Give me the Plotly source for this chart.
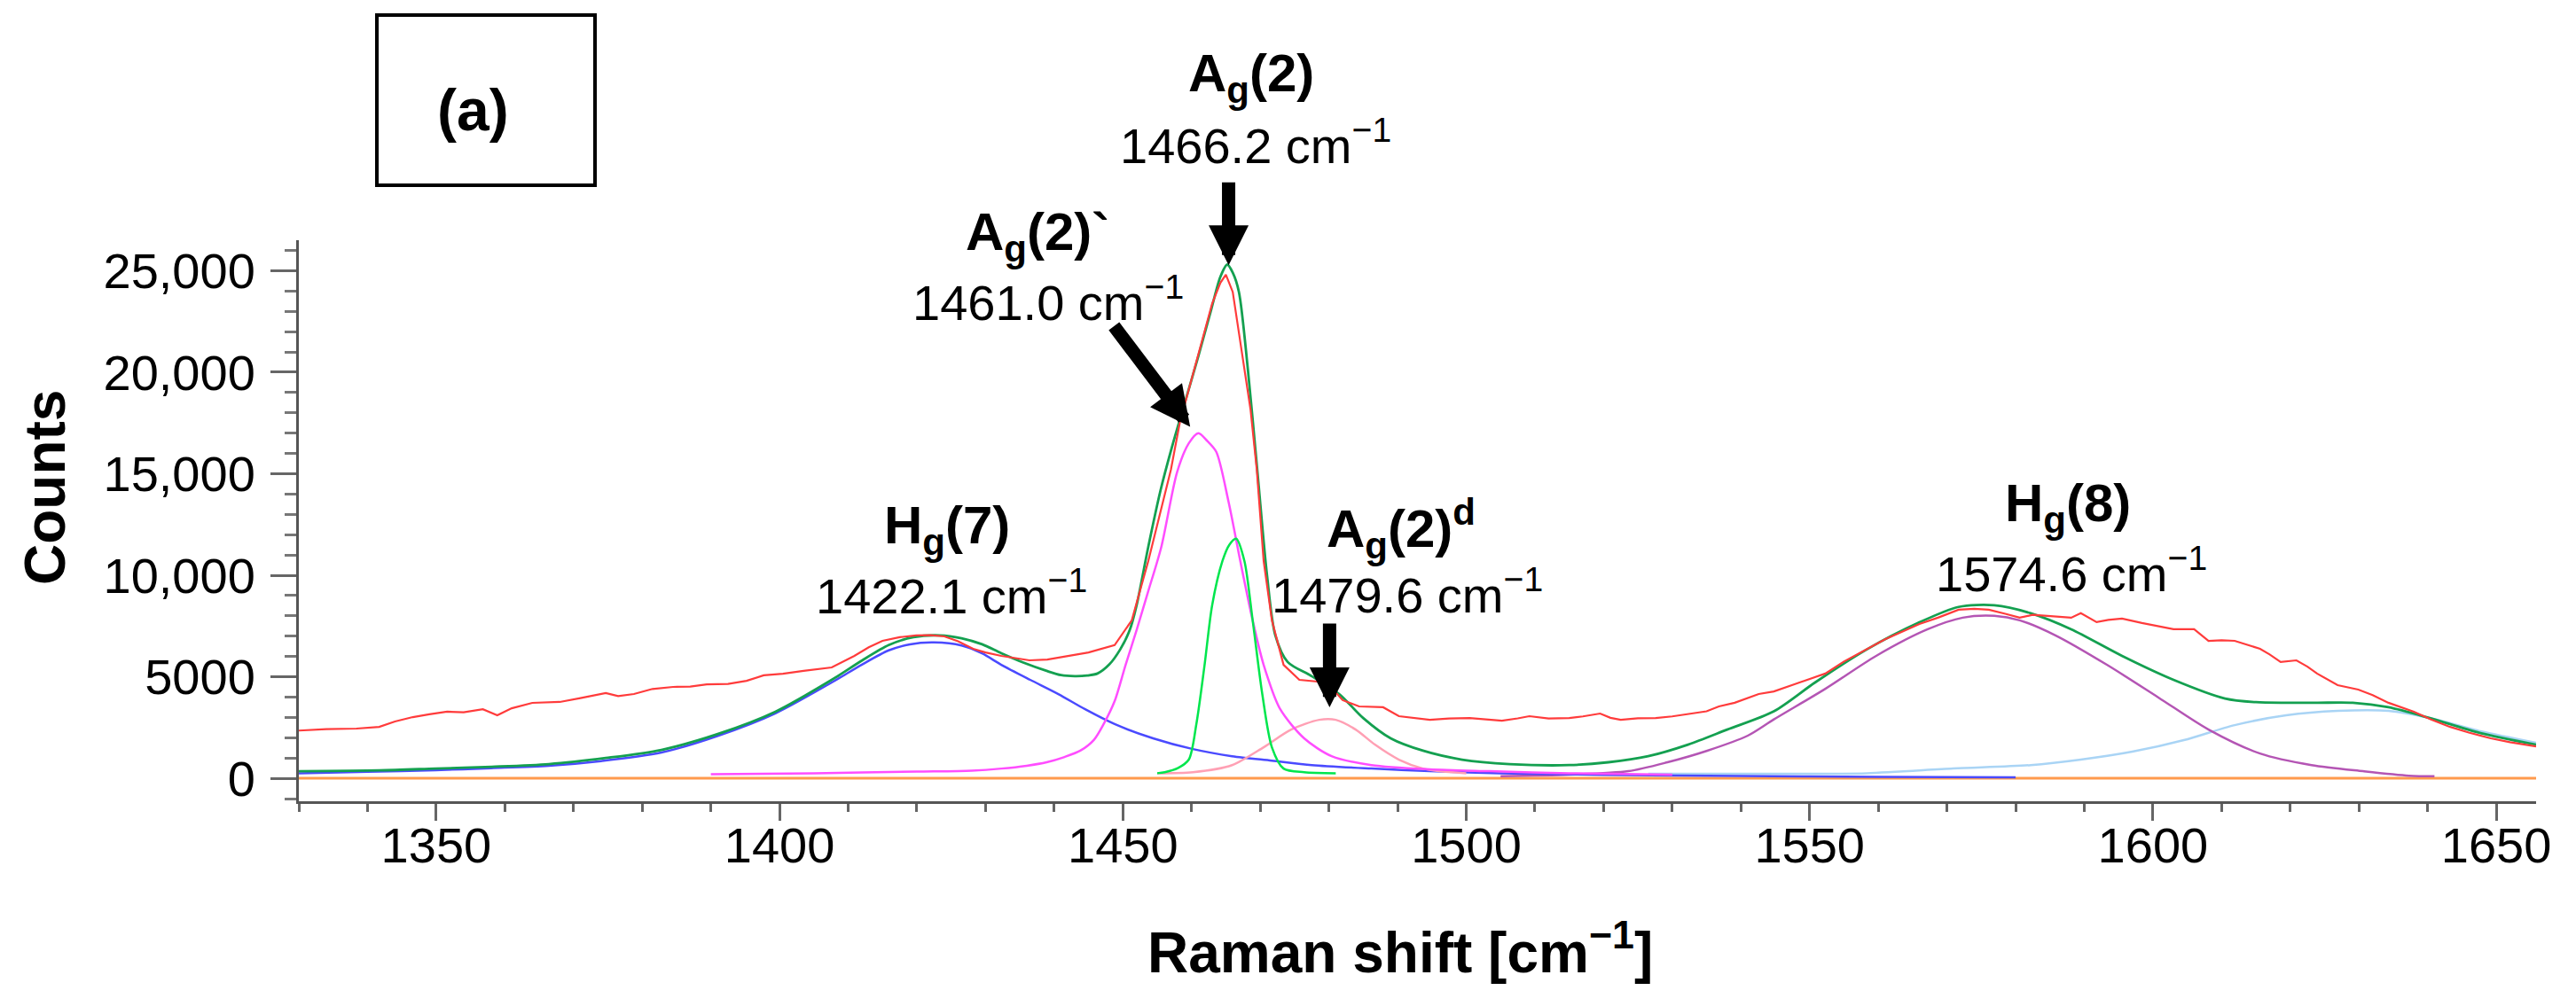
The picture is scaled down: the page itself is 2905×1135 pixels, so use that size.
import plotly.graph_objects as go

# ---------------- data ----------------
x_measured = [1330.0, 1334.0, 1338.4, 1341.7, 1344.0, 1346.6, 1349.0, 1351.6, 1354.0, 1356.8, 1358.9, 1361.0,
              1364.0, 1368.0, 1371.0, 1374.7, 1376.5, 1378.8, 1381.5, 1384.5, 1387.0, 1389.4, 1392.5, 1395.2,
              1397.7, 1400.5, 1403.5, 1407.6, 1410.9, 1413.0, 1415.0, 1417.5, 1419.9, 1422.0, 1424.0, 1426.0,
              1428.2, 1430.0, 1432.3, 1434.5, 1436.4, 1439.0, 1442.2, 1445.0, 1448.8, 1451.3, 1453.7, 1455.5,
              1457.0, 1458.3, 1459.6, 1461.3, 1463.0, 1464.2, 1465.0, 1466.0, 1467.3, 1468.6, 1469.5, 1470.5,
              1471.7, 1473.4, 1475.7, 1479.7, 1482.0, 1484.4, 1487.9, 1490.2, 1494.7, 1497.5, 1500.5, 1503.0,
              1505.2, 1507.5, 1509.2, 1512.0, 1515.0, 1517.0, 1519.5, 1521.0, 1522.5, 1525.0, 1527.6, 1530.0,
              1532.8, 1535.0, 1536.8, 1539.1, 1542.6, 1544.8, 1547.8, 1550.0, 1552.3, 1555.0, 1558.3, 1561.0,
              1563.4, 1566.0, 1568.7, 1571.7, 1574.0, 1576.1, 1578.5, 1580.6, 1582.5, 1584.3, 1586.5, 1588.1,
              1589.5, 1591.8, 1593.5, 1595.5, 1598.4, 1600.5, 1603.0, 1606.0, 1608.1, 1610.0, 1611.9, 1615.6,
              1617.0, 1618.6, 1620.9, 1622.5, 1623.9, 1626.9, 1629.9, 1632.0, 1634.3, 1638.0, 1640.5, 1643.3,
              1646.0, 1649.2, 1652.0, 1655.8]
y_measured = [2350, 2420, 2450, 2535, 2800, 3015, 3150, 3280, 3250, 3400, 3100, 3450,
              3715, 3760, 3950, 4200, 4050, 4150, 4400, 4500, 4520, 4630, 4650, 4800,
              5070, 5150, 5290, 5460, 6030, 6450, 6770, 6950, 7040, 7050, 6990, 6750,
              6380, 6200, 6030, 5900, 5810, 5850, 6030, 6200, 6560, 7780, 10700, 13200,
              15210, 17530, 19140, 21330, 23380, 24400, 24800, 23950, 21020, 18140, 15210, 10700,
              7780, 5590, 4850, 4720, 3850, 3540, 3500, 3060, 2880, 2950, 2970, 2900,
              2840, 2950, 3060, 2950, 2970, 3050, 3190, 2980, 2880, 2960, 2970, 3050,
              3190, 3300, 3540, 3720, 4150, 4280, 4630, 4900, 5160, 5750, 6340, 6850,
              7210, 7600, 7910, 8300, 8350, 8300, 8100, 7910, 8050, 8000, 7950, 7910,
              8130, 7690, 7800, 7870, 7650, 7500, 7340, 7340, 6770, 6800, 6770, 6380,
              6100, 5730, 5810, 5500, 5160, 4590, 4370, 4100, 3720, 3280, 2900, 2530,
              2250, 1970, 1780, 1570]

x_fit = [1330.0, 1341.7, 1349.9, 1358.1, 1366.4, 1374.7, 1382.8, 1391.1, 1399.4, 1407.6, 1412.0, 1415.9,
         1419.5, 1423.3, 1426.5, 1429.5, 1432.3, 1435.5, 1438.9, 1441.0, 1443.0, 1444.8, 1446.3, 1448.0,
         1449.6, 1451.0, 1452.0, 1453.7, 1455.5, 1457.3, 1459.2, 1461.0, 1462.8, 1464.2, 1465.2, 1466.0,
         1466.9, 1468.2, 1469.6, 1471.0, 1472.2, 1474.0, 1477.5, 1481.5, 1485.0, 1489.0, 1493.7, 1499.4,
         1506.3, 1515.0, 1520.7, 1526.5, 1532.3, 1538.0, 1544.8, 1550.8, 1558.3, 1565.8, 1571.7, 1576.9,
         1582.2, 1588.1, 1595.5, 1603.0, 1610.5, 1615.0, 1619.4, 1624.0, 1629.1, 1634.3, 1640.3, 1647.7,
         1655.8]
y_fit = [350, 390, 480, 570, 700, 1000, 1400, 2190, 3280, 4850, 5800, 6560,
         6950, 7040, 6900, 6600, 6160, 5700, 5290, 5080, 5030, 5060, 5160, 5600,
         6340, 7300, 8520, 11400, 14200, 16500, 18700, 20800, 23000, 24700, 25300, 24900,
         23950, 20150, 15080, 9970, 7040, 5730, 5030, 4150, 2970, 1970, 1360, 920,
         700, 650, 790, 1090, 1660, 2400, 3300, 4720, 6340, 7650, 8440, 8520,
         8130, 7340, 6030, 4850, 3930, 3750, 3720, 3720, 3720, 3500, 2970, 2230,
         1660]

x_hg7 = [1330.0, 1340.0, 1349.9, 1358.0, 1366.4, 1374.0, 1382.8, 1391.1, 1399.4, 1407.6, 1412.0, 1415.9,
         1419.0, 1422.5, 1426.5, 1429.5, 1432.3, 1436.5, 1440.6, 1444.5, 1448.8, 1454.4, 1460.2, 1465.9,
         1471.7, 1477.5, 1486.2, 1494.7, 1505.0, 1520.0, 1540.0, 1560.0, 1580.0]
y_hg7 = [250, 320, 400, 500, 620, 850, 1270, 2100, 3200, 4720, 5600, 6300,
         6600, 6690, 6540, 6150, 5590, 4850, 4150, 3400, 2670, 1970, 1440, 1090,
         870, 650, 480, 350, 250, 170, 110, 70, 50]

x_ag2p = [1390.0, 1405.0, 1420.0, 1428.0, 1432.3, 1436.0, 1438.9, 1441.5, 1443.8, 1445.8, 1447.2, 1448.8,
          1450.4, 1452.0, 1453.7, 1455.6, 1457.9, 1459.6, 1461.0, 1462.3, 1463.6, 1465.4, 1467.1, 1468.9,
          1470.5, 1472.9, 1476.4, 1480.4, 1486.2, 1494.7, 1503.4, 1515.0, 1530.0]
y_ag2p = [200, 250, 330, 380, 480, 620, 790, 1050, 1360, 1900, 2670, 3800,
          5590, 7300, 9220, 11400, 15080, 16500, 17000, 16610, 16080, 13600, 10700, 7780,
          5590, 3410, 1970, 1090, 650, 440, 350, 250, 180]

x_ag2 = [1455.0, 1456.1, 1458.0, 1459.6, 1460.7, 1461.9, 1463.0, 1464.5, 1465.5, 1466.5, 1467.7, 1468.9,
         1470.3, 1471.7, 1473.4, 1476.4, 1481.0]
y_ag2 = [250, 300, 500, 920, 2670, 5590, 8520, 10700, 11500, 11800, 10700, 7780,
         4150, 1530, 480, 300, 250]

x_ag2d = [1455.0, 1460.2, 1465.9, 1470.5, 1474.5, 1478.6, 1481.0, 1483.9, 1486.7, 1490.2, 1493.7, 1496.0, 1500.0]
y_ag2d = [250, 300, 650, 1530, 2400, 2880, 2880, 2400, 1660, 920, 480, 350, 250]

x_hg8 = [1505.0, 1515.0, 1523.6, 1529.3, 1535.1, 1541.0, 1544.8, 1552.3, 1559.7, 1567.2, 1572.3, 1576.9,
         1580.6, 1585.8, 1593.3, 1600.8, 1608.1, 1615.6, 1623.1, 1630.6, 1637.3, 1641.0]
y_hg8 = [100, 180, 350, 790, 1360, 2100, 2900, 4410, 6030, 7340, 7910, 8000,
         7780, 7040, 5590, 3980, 2400, 1220, 650, 350, 130, 100]

x_band5 = [1526.5, 1545.0, 1558.3, 1570.9, 1582.2, 1589.5, 1597.0, 1604.5, 1611.9, 1619.4, 1626.9, 1634.3,
           1640.3, 1647.7, 1655.8]
y_band5 = [220, 220, 250, 480, 650, 920, 1310, 1880, 2620, 3100, 3320, 3320,
           2970, 2320, 1750]

x_base = [1330.0, 1655.8]
y_base = [0, 0]

Y_TICKS = [0, 5000, 10000, 15000, 20000, 25000]
Y_TICK_TEXT = ["0", "5000", "10,000", "15,000", "20,000", "25,000"]

peak_labels = [
    ("A<sub>g</sub>(2)", "1466.2 cm<sup>−1</sup>"),
    ("A<sub>g</sub>(2)`", "1461.0 cm<sup>−1</sup>"),
    ("H<sub>g</sub>(7)", "1422.1 cm<sup>−1</sup>"),
    ("A<sub>g</sub>(2)<sup>d</sup>", "1479.6 cm<sup>−1</sup>"),
    ("H<sub>g</sub>(8)", "1574.6 cm<sup>−1</sup>"),
]

# ---------------- layout geometry ----------------
W, H = 2905, 1135
ML, MR, MT, MB = 337, 45, 271, 231
PW, PH = W - ML - MR, H - MT - MB
FONT = "Liberation Sans, Arial, Helvetica, sans-serif"


def paper(px, py):
    return (px - ML) / PW, (H - MB - py) / PH


fig = go.Figure()


def add_line(xs, ys, color, width=2.5, shape="spline"):
    fig.add_trace(go.Scatter(x=xs, y=ys, mode="lines", line=dict(color=color, width=width, shape=shape,
                                                                  smoothing=0.8),
                             hoverinfo="skip", showlegend=False))


add_line(x_base, y_base, "#ff9a4d", 3, "linear")
add_line(x_band5, y_band5, "#a9d4f5")
add_line(x_hg8, y_hg8, "#b455b4")
add_line(x_hg7, y_hg7, "#4a4aff")
add_line(x_ag2d, y_ag2d, "#ffa0b4")
add_line(x_ag2p, y_ag2p, "#ff4dff")
add_line(x_ag2, y_ag2, "#00e64d")
add_line(x_fit, y_fit, "#14a050", 2.8)
add_line(x_measured, y_measured, "#ff3b3b", 2.2, "linear")

annotations = []

# peak labels: (bold center px, regular center px)
label_pos = [
    ((1411, 87), (1416, 160)),
    ((1170, 266), (1182, 337)),
    ((1068, 597), (1073, 668)),
    ((1580, 596), (1587, 667)),
    ((2332, 572), (2336, 643)),
]
for (bold, reg), ((bx, by), (rx, ry)) in zip(peak_labels, label_pos):
    px_, py_ = paper(bx, by)
    annotations.append(dict(x=px_, y=py_, xref="paper", yref="paper", text="<b>" + bold + "</b>",
                            showarrow=False, xanchor="center", yanchor="middle",
                            font=dict(size=60, family=FONT, color="black")))
    px_, py_ = paper(rx, ry)
    annotations.append(dict(x=px_, y=py_, xref="paper", yref="paper", text=reg,
                            showarrow=False, xanchor="center", yanchor="middle",
                            font=dict(size=56, family=FONT, color="black")))

# arrows pointing at peaks (tip in data coords, tail offset in pixels)
arrows = [(1465.4, 25262, 0, -95), (1459.8, 17308, -87, -115), (1480.1, 3497, 0, -96)]
for ax_x, ax_y, dx, dy in arrows:
    annotations.append(dict(x=ax_x, y=ax_y, xref="x", yref="y", text="", showarrow=True,
                            arrowhead=2, arrowsize=0.6, arrowwidth=15, arrowcolor="black",
                            ax=dx, ay=dy, axref="pixel", ayref="pixel"))

# "(a)" label
px_, py_ = paper(533, 124)
annotations.append(dict(x=px_, y=py_, xref="paper", yref="paper", text="<b>(a)</b>", showarrow=False,
                        xanchor="center", yanchor="middle", font=dict(size=66, family=FONT, color="black")))

# axis titles
px_, py_ = paper(51, 550)
annotations.append(dict(x=px_, y=py_, xref="paper", yref="paper", text="<b>Counts</b>", showarrow=False,
                        textangle=-90, xanchor="center", yanchor="middle",
                        font=dict(size=64, family=FONT, color="black")))
px_, py_ = paper(1579, 1070)
annotations.append(dict(x=px_, y=py_, xref="paper", yref="paper", text="<b>Raman shift [cm<sup>−1</sup>]</b>",
                        showarrow=False, xanchor="center", yanchor="middle",
                        font=dict(size=64, family=FONT, color="black")))

bx0, by0 = paper(425, 209)
bx1, by1 = paper(671, 17)
shapes = [dict(type="rect", xref="paper", yref="paper", x0=bx0, y0=by0, x1=bx1, y1=by1,
               line=dict(color="black", width=4), fillcolor="rgba(0,0,0,0)")]

fig.update_layout(
    width=W, height=H,
    margin=dict(l=ML, r=MR, t=MT, b=MB, pad=0),
    paper_bgcolor="white", plot_bgcolor="white",
    font=dict(family=FONT, color="black"),
    annotations=annotations, shapes=shapes,
    xaxis=dict(range=[1330, 1655.8], showline=True, linecolor="#555555", linewidth=3,
               ticks="outside", ticklen=19, tickwidth=3, tickcolor="#666666",
               tick0=1350, dtick=50, tickfont=dict(size=56, family=FONT, color="black"),
               showgrid=False, zeroline=False, ticklabelstandoff=-20,
               minor=dict(ticks="outside", ticklen=9, tickwidth=3, tickcolor="#666666", dtick=10,
                          tick0=1350, showgrid=False)),
    yaxis=dict(range=[-1130, 26500], showline=True, linecolor="#555555", linewidth=3,
               ticks="outside", ticklen=29, tickwidth=3, tickcolor="#666666",
               tickvals=Y_TICKS, ticktext=Y_TICK_TEXT, tickfont=dict(size=56, family=FONT, color="black"),
               showgrid=False, zeroline=False, ticklabelstandoff=6,
               minor=dict(ticks="outside", ticklen=13, tickwidth=3, tickcolor="#777777", dtick=1000,
                          tick0=0, showgrid=False)),
)

fig.write_html("out.html")
